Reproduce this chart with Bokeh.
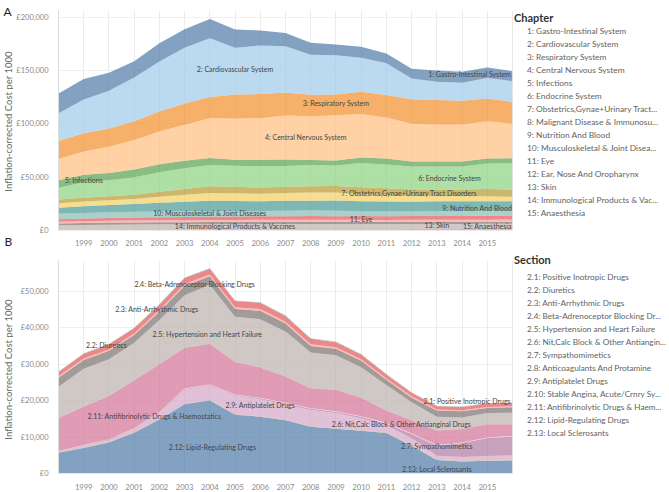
import math
from bokeh.plotting import figure
from bokeh.models import ColumnDataSource, FixedTicker, Legend, LegendItem, Span, Range1d, Spacer
from bokeh.layouts import column, row
from bokeh.embed import file_html
from bokeh.resources import INLINE
from bokeh.core.properties import value

FONT = "Lato"
ALPHA = 0.7
TAB20 = ["#4E79A7", "#A0CBE8", "#F28E2B", "#FFBE7D", "#59A14F", "#8CD17D", "#B6992D", "#F1CE63",
         "#499894", "#86BCB6", "#E15759", "#FF9D9A", "#79706E", "#BAB0AC", "#D37295", "#FABFD2",
         "#B07AA1", "#D4A6C8", "#9D7660", "#D7B5A6"]

years = list(range(1998, 2017))
tick_years = list(range(1999, 2016))

# ---------------- Panel A : BNF chapters (GBP per 1000) ----------------
ch01_gastro = [18400, 19100, 16900, 15400, 17000, 17200, 18000, 17100, 14100, 12500, 11300, 10000, 10400, 9200, 9200, 10500, 10200, 9900, 9300]
ch02_cardio = [26200, 31700, 35400, 40900, 46800, 52400, 55000, 43900, 45500, 43300, 37400, 36800, 31800, 29900, 19400, 17200, 16900, 19100, 19400]
ch03_resp = [16700, 17000, 17000, 17600, 18800, 20000, 20000, 22500, 22700, 21600, 20300, 19500, 21000, 20900, 23100, 22800, 22200, 21500, 20600]
ch04_cns = [20000, 21900, 24600, 27700, 30800, 33600, 37300, 38500, 38900, 41200, 41000, 42400, 40600, 38500, 35400, 34800, 34800, 34800, 32300]
ch05_infect = [7100, 7000, 6800, 7100, 7400, 7100, 6500, 5700, 6100, 6000, 4600, 4600, 5200, 5600, 4600, 4600, 4600, 4700, 4700]
ch06_endo = [11000, 14500, 15100, 16400, 18300, 19500, 19900, 19800, 20000, 19400, 20000, 19400, 22800, 22200, 21600, 21600, 21600, 24000, 24600]
ch07_obst = [3500, 3600, 3800, 4100, 4700, 5400, 6300, 6000, 5800, 6000, 5900, 6000, 6800, 6800, 6200, 6200, 6200, 6600, 6800]
ch08_malig = [4200, 4300, 4500, 4700, 5600, 6400, 7400, 7300, 7000, 7300, 7500, 7400, 6200, 5800, 5300, 4900, 4800, 4700, 4200]
ch09_nutr = [5500, 6300, 6800, 7300, 8200, 8700, 10000, 9500, 9100, 9200, 9200, 9800, 9800, 9200, 9000, 9200, 9000, 9000, 8700]
ch10_musc = [5300, 5300, 5200, 5300, 5300, 5700, 4900, 5000, 5000, 5200, 5300, 5000, 4200, 4500, 4400, 4500, 4700, 4600, 4600]
ch11_eye = [2400, 2550, 2700, 2850, 2950, 3000, 3100, 3150, 3250, 3300, 3400, 3400, 3450, 3450, 3500, 3600, 3650, 3750, 3900]
ch12_ent = [1500, 1600, 1700, 1800, 1800, 1800, 1900, 1900, 1900, 2000, 2000, 2000, 2000, 2000, 2000, 2000, 2000, 2000, 2000]
ch13_skin = [1700, 1800, 1900, 1900, 2000, 2000, 2000, 2100, 2100, 2000, 2000, 1900, 1900, 1900, 1900, 1900, 1900, 1900, 1900]
ch14_immun = [4200, 4500, 4700, 4800, 4900, 4900, 5000, 5000, 5100, 5100, 5100, 5100, 5100, 5000, 5000, 5000, 5000, 5100, 5100]
ch15_anaes = [700, 750, 800, 850, 850, 900, 900, 950, 950, 1000, 1000, 1000, 1050, 1050, 1100, 1100, 1150, 1150, 1200]

chapter_legend = ["1: Gastro-Intestinal System", "2: Cardiovascular System", "3: Respiratory System",
                  "4: Central Nervous System", "5: Infections", "6: Endocrine System",
                  "7: Obstetrics,Gynae+Urinary Tract...", "8: Malignant Disease & Immunosu...",
                  "9: Nutrition And Blood", "10: Musculoskeletal & Joint Disea...", "11: Eye",
                  "12: Ear, Nose And Oropharynx", "13: Skin", "14: Immunological Products & Vac...",
                  "15: Anaesthesia"]

a_label_text = ["1: Gastro-Intestinal System", "2: Cardiovascular System", "3: Respiratory System",
                "4: Central Nervous System", "5: Infections", "6: Endocrine System",
                "7: Obstetrics,Gynae+Urinary Tract Disorders", "9: Nutrition And Blood",
                "10: Musculoskeletal & Joint Diseases", "11: Eye", "13: Skin",
                "14: Immunological Products & Vaccines", "15: Anaesthesia"]
a_label_year = [2014.3, 2005.0, 2009.0, 2007.8, 1999.0, 2013.5, 2011.9, 2014.6, 2004.0, 2010.0, 2013.0, 2005.0, 2015.0]
a_label_value = [146800, 151400, 119200, 88000, 47400, 49000, 35000, 21400, 16400, 11100, 4900, 4000, 4000]

a_ytick_values = [0, 50000, 100000, 150000, 200000]
a_ytick_text = ["£0", "£50,000", "£100,000", "£150,000", "£200,000"]

# ---------------- Panel B : Cardiovascular sections (GBP per 1000) ----------------
s2_01_inotropic = [120, 130, 140, 150, 160, 170, 180, 170, 160, 160, 150, 150, 140, 140, 130, 130, 120, 120, 120]
s2_02_diuretics = [1200, 1300, 1400, 1400, 1500, 1600, 1600, 1700, 1700, 1600, 1500, 1400, 1300, 1100, 1000, 900, 900, 900, 900]
s2_03_antiarrhythmic = [400, 400, 400, 450, 450, 500, 500, 500, 500, 450, 450, 400, 400, 350, 350, 300, 300, 300, 300]
s2_04_beta = [2500, 2400, 2300, 2100, 2300, 2600, 2300, 2100, 2300, 2200, 1800, 1800, 1800, 1400, 1300, 1700, 1700, 1400, 1500]
s2_05_hypertension = [8580, 10370, 10060, 10300, 12090, 14430, 16220, 12430, 13240, 12390, 9800, 9450, 8360, 7010, 4920, 3770, 3180, 3080, 3180]
s2_06_nitcalc = [9000, 10600, 11900, 13200, 13200, 11200, 11200, 8900, 8300, 7200, 5500, 5900, 5100, 3400, 3600, 4000, 3700, 3600, 3200]
s2_07_sympath = [100, 100, 100, 100, 120, 120, 130, 130, 130, 140, 140, 140, 150, 150, 150, 160, 160, 170, 170]
s2_08_anticoag = [150, 150, 150, 170, 200, 200, 220, 250, 270, 300, 320, 350, 400, 500, 1200, 2800, 3800, 4900, 5200]
s2_09_antiplatelet = [150, 440, 530, 800, 1540, 3820, 3780, 5040, 4610, 4160, 4420, 4080, 3210, 1900, 1780, 860, 960, 1040, 1030]
s2_10_stableangina = [50, 50, 50, 50, 50, 60, 60, 60, 60, 60, 70, 70, 70, 70, 80, 80, 80, 80, 80]
s2_11_antifibrin = [50, 60, 70, 80, 90, 100, 110, 120, 130, 140, 150, 160, 170, 180, 190, 200, 200, 210, 220]
s2_12_lipid = [5670, 6970, 8470, 11170, 14770, 18970, 20070, 16080, 15580, 14580, 12780, 12280, 11680, 11080, 7580, 3680, 3280, 3480, 3580]
s2_13_sclerosant = [30, 30, 30, 30, 30, 30, 30, 20, 20, 20, 20, 20, 20, 20, 20, 20, 20, 20, 20]

section_legend = ["2.1: Positive Inotropic Drugs", "2.2: Diuretics", "2.3: Anti-Arrhythmic Drugs",
                  "2.4: Beta-Adrenoceptor Blocking Dr...", "2.5: Hypertension and Heart Failure",
                  "2.6: Nit,Calc Block & Other Antiangin...", "2.7: Sympathomimetics",
                  "2.8: Anticoagulants And Protamine", "2.9: Antiplatelet Drugs",
                  "2.10: Stable Angina, Acute/Crnry Sy...", "2.11: Antifibrinolytic Drugs & Haem...",
                  "2.12: Lipid-Regulating Drugs", "2.13: Local Sclerosants"]

b_label_text = ["2.1: Positive Inotropic Drugs", "2.2: Diuretics", "2.3: Anti-Arrhythmic Drugs",
                "2.4: Beta-Adrenoceptor Blocking Drugs", "2.5: Hypertension and Heart Failure",
                "2.6: Nit,Calc Block & Other Antianginal Drugs", "2.7: Sympathomimetics",
                "2.9: Antiplatelet Drugs", "2.11: Antifibrinolytic Drugs & Haemostatics",
                "2.12: Lipid-Regulating Drugs", "2.13: Local Sclerosants"]
b_label_year = [2014.2, 1999.9, 2001.9, 2003.4, 2003.9, 2011.6, 2013.0, 2006.0, 2001.8, 2004.1, 2013.0]
b_label_value = [19900, 35200, 45200, 51900, 38300, 13700, 7600, 18800, 15700, 7400, 1200]

b_ytick_values = [0, 10000, 20000, 30000, 40000, 50000]
b_ytick_text = ["£0", "£10,000", "£20,000", "£30,000", "£40,000", "£50,000"]

Y_TITLE = "Inflation-corrected Cost per 1000"
panel_letters = ["A", "B"]

# layout sizes (pixels)
STRIP_W, MAIN_W, LEG_W = 13, 501, 155
TOP_H, BOT_H = 248, 244
TOTAL_H = TOP_H + BOT_H


def make_main(height, border_top, border_bottom, ymax, series, colors,
              ytick_values, ytick_text, lbl_year, lbl_value, lbl_text, x_standoff):
    p = figure(width=MAIN_W, height=height, x_range=Range1d(years[0], years[-1]),
               y_range=Range1d(0, ymax), output_backend="svg", toolbar_location=None,
               min_border_left=39, min_border_right=2, min_border_top=border_top,
               min_border_bottom=border_bottom, outline_line_color=None,
               background_fill_color="white", border_fill_color="white")
    data = {"year": years}
    keys = []
    for i, s in enumerate(series):
        k = "s%d" % i
        data[k] = s
        keys.append(k)
    src = ColumnDataSource(data)
    p.varea_stack(stackers=keys[::-1], x="year", fill_color=colors[::-1],
                  fill_alpha=ALPHA, source=src)

    xa = p.xaxis[0]
    xa.ticker = FixedTicker(ticks=tick_years)
    xa.axis_line_color = None
    xa.major_tick_line_color = None
    xa.minor_tick_line_color = None
    xa.major_label_standoff = x_standoff
    xa.major_label_text_font = FONT
    xa.major_label_text_font_size = "7.6px"
    xa.major_label_text_color = "#8a8a8a"

    ya = p.yaxis[0]
    ya.ticker = FixedTicker(ticks=ytick_values)
    ya.major_label_overrides = dict(zip(ytick_values, ytick_text))
    ya.axis_line_color = "#dcdcdc"
    ya.major_tick_line_color = None
    ya.minor_tick_line_color = None
    ya.major_label_standoff = 4
    ya.major_label_text_font = FONT
    ya.major_label_text_font_size = "7.5px"
    ya.major_label_text_color = "#8a8a8a"

    p.xgrid.ticker = FixedTicker(ticks=tick_years)
    p.xgrid.grid_line_color = "#ececec"
    p.ygrid.grid_line_color = "#f0f0f0"

    p.add_layout(Span(location=years[-1], dimension="height", line_color="#d4d4d4", line_width=1))

    lsrc = ColumnDataSource(dict(x=lbl_year, y=lbl_value, t=lbl_text))
    p.text(x="x", y="y", text="t", source=lsrc, text_font=value(FONT), text_font_size="7px",
           text_color="#454545", text_align="center", text_baseline="middle")
    return p


def make_legend(height, labels, colors, title, font_size, title_gap):
    q = figure(width=LEG_W, height=height, x_range=Range1d(0, 1), y_range=Range1d(0, 1),
               x_axis_type=None, y_axis_type=None, output_backend="svg", toolbar_location=None,
               min_border=0, outline_line_color=None, background_fill_color="white",
               border_fill_color="white")
    q.xgrid.visible = False
    q.ygrid.visible = False
    items = []
    for lab, c in zip(labels, colors):
        r = q.varea(x=[], y1=[], y2=[], fill_color=c, fill_alpha=ALPHA)
        items.append(LegendItem(label=lab, renderers=[r]))
    leg = Legend(items=items, location="top_left", title=title, orientation="vertical",
                 margin=0, padding=4, spacing=2, glyph_width=9, glyph_height=9, label_height=11,
                 label_standoff=4, title_standoff=title_gap, border_line_color=None,
                 background_fill_alpha=0, label_text_font=FONT, label_text_font_size=font_size,
                 label_text_color="#636363", title_text_font=FONT, title_text_font_size="11px",
                 title_text_font_style="bold", title_text_color="#333333")
    q.add_layout(leg)
    return q


def make_strip():
    s = figure(width=STRIP_W, height=TOTAL_H, x_range=Range1d(0, STRIP_W), y_range=Range1d(0, TOTAL_H),
               x_axis_type=None, y_axis_type=None, output_backend="svg", toolbar_location=None,
               min_border=0, outline_line_color=None, background_fill_color="white",
               border_fill_color="white")
    # panel letters: layout positions in this strip's pixel space
    s.text(x=[3, 4], y=[TOTAL_H - 3, TOTAL_H - 233], text=panel_letters, text_font=value(FONT),
           text_font_size="12px", text_color="#222222", text_align="left", text_baseline="top")
    # rotated y-axis titles centred on each plotting frame
    s.text(x=[8, 8], y=[TOTAL_H - 121, TOTAL_H - 369], text=[Y_TITLE, Y_TITLE],
           angle=math.pi / 2, text_font=value(FONT), text_font_size="9.5px", text_color="#666666",
           text_align="center", text_baseline="middle")
    return s


top = make_main(TOP_H, 10, 16, 206200,
                [ch01_gastro, ch02_cardio, ch03_resp, ch04_cns, ch05_infect, ch06_endo, ch07_obst,
                 ch08_malig, ch09_nutr, ch10_musc, ch11_eye, ch12_ent, ch13_skin, ch14_immun, ch15_anaes],
                TAB20[:15], a_ytick_values, a_ytick_text, a_label_year, a_label_value, a_label_text, 3)

bottom = make_main(BOT_H, 12, 14, 58450,
                   [s2_01_inotropic, s2_02_diuretics, s2_03_antiarrhythmic, s2_04_beta, s2_05_hypertension,
                    s2_06_nitcalc, s2_07_sympath, s2_08_anticoag, s2_09_antiplatelet, s2_10_stableangina,
                    s2_11_antifibrin, s2_12_lipid, s2_13_sclerosant],
                   TAB20[9:20] + TAB20[0:2], b_ytick_values, b_ytick_text,
                   b_label_year, b_label_value, b_label_text, 4)

leg_top = make_legend(237, chapter_legend, TAB20[:15], "Chapter", "8.4px", 1)
leg_bot = make_legend(239, section_legend, TAB20[9:20] + TAB20[0:2], "Section", "8.2px", 5)

layout = row(make_strip(),
             column(top, bottom, spacing=0),
             column(Spacer(width=LEG_W, height=11), leg_top, Spacer(width=LEG_W, height=5), leg_bot,
                    spacing=0),
             spacing=0)
open("out.html", "w").write(file_html(layout, INLINE))
